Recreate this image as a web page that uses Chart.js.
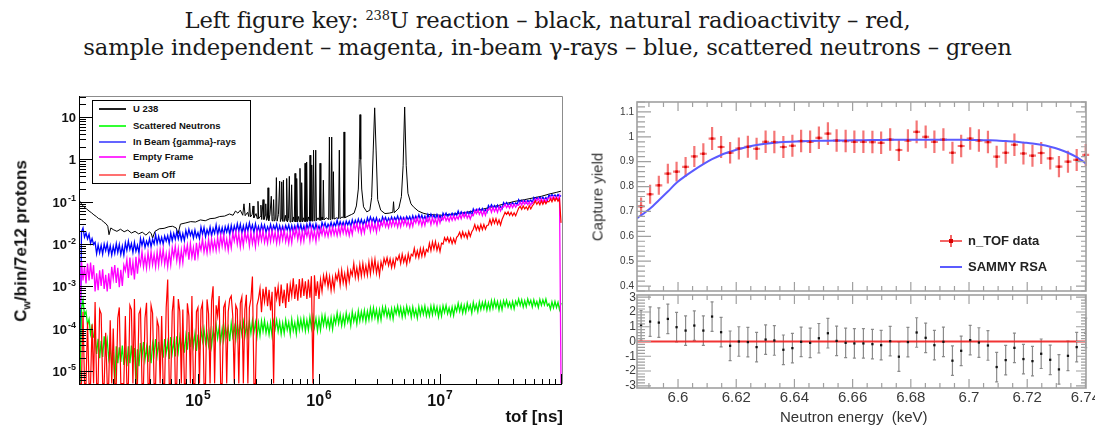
<!DOCTYPE html>
<html>
<head>
<meta charset="utf-8">
<script src="https://cdn.jsdelivr.net/npm/chart.js@4.4.1/dist/chart.umd.min.js"></script>
<style>
  html, body { margin: 0; padding: 0; background: #fff; }
  #page { position: relative; width: 1095px; height: 428px; overflow: hidden; font-family: "Liberation Sans", Arial, sans-serif; }
  #title { position: absolute; left: 0; top: 7px; width: 1095px; text-align: center; font-family: "DejaVu Serif", serif; font-size: 22.7px; line-height: 27px; color: #1a1a1a; letter-spacing: -0.2px; }
  #title sup { font-size: 13px; line-height: 0; vertical-align: 8px; }
  canvas { position: absolute; }
  .rot { position: absolute; transform: translate(-50%, -50%) rotate(-90deg); white-space: nowrap; }
  #legL { position: absolute; left: 92px; top: 100px; width: 157px; height: 82px; border: 1px solid #000; background: #fff; font-weight: bold; font-size: 9.5px; color: #111; }
  #legL .row { position: absolute; left: 0; height: 14px; line-height: 14px; width: 157px; }
  #legL .ln { position: absolute; left: 6px; top: 6px; width: 27px; height: 1.5px; }
  #legL .tx { position: absolute; left: 40px; top: 0; }
  .legR { position: absolute; left: 968px; font-weight: bold; font-size: 13px; line-height: 16px; color: #222; }
</style>
</head>
<body>
<div id="page">
  <div id="title">Left figure key: <sup>238</sup>U reaction – black, natural radioactivity – red,<br>sample independent – magenta, in-beam γ-rays – blue, scattered neutrons – green</div>

  <canvas id="tofChart" width="580" height="343" style="left:0; top:85px;"></canvas>
  <canvas id="yieldChart" width="510" height="210" style="left:585px; top:85px;"></canvas>
  <canvas id="residChart" width="510" height="138" style="left:585px; top:290px;"></canvas>

  <div id="legL">
    <div class="row" style="top:1px"><span class="ln" style="background:#222"></span><span class="tx">U 238</span></div>
    <div class="row" style="top:18px"><span class="ln" style="background:#33ff33"></span><span class="tx">Scattered Neutrons</span></div>
    <div class="row" style="top:34px"><span class="ln" style="background:#6464ff"></span><span class="tx">In Beam {gamma}-rays</span></div>
    <div class="row" style="top:49px"><span class="ln" style="background:#ff33ff"></span><span class="tx">Empty Frame</span></div>
    <div class="row" style="top:67px"><span class="ln" style="background:#ff7070"></span><span class="tx">Beam Off</span></div>
  </div>

  <div class="rot" style="left:22px; top:241px; font-weight:bold; font-size:17px; color:#111;">C<sub style="font-size:11px">w</sub>/bin/7e12 protons</div>
  <div style="position:absolute; left:463px; top:407px; width:100px; text-align:right; font-weight:bold; font-size:17px; color:#111;">tof [ns]</div>

  <!-- right legend -->
  <div style="position:absolute; left:940px; top:240px; width:22px; height:2px; background:rgba(240,50,50,0.75)"></div>
  <div style="position:absolute; left:950px; top:235px; width:2px; height:12px; background:rgba(240,50,50,0.75)"></div>
  <div style="position:absolute; left:949px; top:239px; width:4px; height:4px; background:#d80000"></div>
  <div class="legR" style="top:233px">n_TOF data</div>
  <div style="position:absolute; left:940px; top:266px; width:22px; height:2px; background:#5b5bff"></div>
  <div class="legR" style="top:259px">SAMMY RSA</div>

  <div class="rot" style="left:597px; top:197px; font-size:15px; color:#333;">Capture yield</div>
  <div style="position:absolute; left:780px; top:408px; font-size:15px; color:#333; white-space:pre;">Neutron energy  (keV)</div>
</div>

<script>
// ---------------- LEFT PANEL DATA ----------------
// tof bin centres, log10(tof / ns)
const gridExp = [
  4.025, 4.0375, 4.05, 4.0625, 4.075, 4.0875, 4.1, 4.1125, 4.125, 4.1375, 4.15, 4.1625, 4.175, 4.1875, 4.2, 4.2125, 4.225, 4.2375, 4.25, 4.2625,
  4.275, 4.2875, 4.3, 4.3125, 4.325, 4.3375, 4.35, 4.3625, 4.375, 4.3875, 4.4, 4.4125, 4.425, 4.4375, 4.45, 4.4625, 4.475, 4.4875, 4.5, 4.5125,
  4.525, 4.5375, 4.55, 4.5625, 4.575, 4.5875, 4.6, 4.6125, 4.625, 4.6375, 4.65, 4.6625, 4.675, 4.6875, 4.7, 4.7125, 4.725, 4.7375, 4.75, 4.7625,
  4.775, 4.7875, 4.8, 4.8125, 4.825, 4.8375, 4.85, 4.8625, 4.875, 4.8875, 4.9, 4.9125, 4.925, 4.9375, 4.95, 4.9625, 4.975, 4.9875, 5.0, 5.0125,
  5.025, 5.0375, 5.05, 5.0625, 5.075, 5.0875, 5.1, 5.1125, 5.125, 5.1375, 5.15, 5.1625, 5.175, 5.1875, 5.2, 5.2125, 5.225, 5.2375, 5.25, 5.2625,
  5.275, 5.2875, 5.3, 5.3125, 5.325, 5.3375, 5.35, 5.3625, 5.375, 5.3875, 5.4, 5.4125, 5.425, 5.4375, 5.45, 5.4625, 5.475, 5.4875, 5.5, 5.5125,
  5.525, 5.5375, 5.55, 5.5625, 5.575, 5.5875, 5.6, 5.6125, 5.625, 5.6375, 5.65, 5.6625, 5.675, 5.6875, 5.7, 5.7125, 5.725, 5.7375, 5.75, 5.7625,
  5.775, 5.7875, 5.8, 5.8125, 5.825, 5.8375, 5.85, 5.8625, 5.875, 5.8875, 5.9, 5.9125, 5.925, 5.9375, 5.95, 5.9625, 5.975, 5.9875, 6.0, 6.0125,
  6.025, 6.0375, 6.05, 6.0625, 6.075, 6.0875, 6.1, 6.1125, 6.125, 6.1375, 6.15, 6.1625, 6.175, 6.1875, 6.2, 6.2125, 6.225, 6.2375, 6.25, 6.2625,
  6.275, 6.2875, 6.3, 6.3125, 6.325, 6.3375, 6.35, 6.3625, 6.375, 6.3875, 6.4, 6.4125, 6.425, 6.4375, 6.45, 6.4625, 6.475, 6.4875, 6.5, 6.5125,
  6.525, 6.5375, 6.55, 6.5625, 6.575, 6.5875, 6.6, 6.6125, 6.625, 6.6375, 6.65, 6.6625, 6.675, 6.6875, 6.7, 6.7125, 6.725, 6.7375, 6.75, 6.7625,
  6.775, 6.7875, 6.8, 6.8125, 6.825, 6.8375, 6.85, 6.8625, 6.875, 6.8875, 6.9, 6.9125, 6.925, 6.9375, 6.95, 6.9625, 6.975, 6.9875, 7.0, 7.0125,
  7.025, 7.0375, 7.05, 7.0625, 7.075, 7.0875, 7.1, 7.1125, 7.125, 7.1375, 7.15, 7.1625, 7.175, 7.1875, 7.2, 7.2125, 7.225, 7.2375, 7.25, 7.2625,
  7.275, 7.2875, 7.3, 7.3125, 7.325, 7.3375, 7.35, 7.3625, 7.375, 7.3875, 7.4, 7.4125, 7.425, 7.4375, 7.45, 7.4625, 7.475, 7.4875, 7.5, 7.5125,
  7.525, 7.5375, 7.55, 7.5625, 7.575, 7.5875, 7.6, 7.6125, 7.625, 7.6375, 7.65, 7.6625, 7.675, 7.6875, 7.7, 7.7125, 7.725, 7.7375, 7.75, 7.7625,
  7.775, 7.7875, 7.8, 7.8125, 7.825, 7.8375, 7.85, 7.8625, 7.875, 7.8875, 7.9, 7.9125, 7.925, 7.9375, 7.95, 7.9625, 7.975, 7.9875, 8.0
];

// counts per bin, log10 (empty bins sit on the frame bottom at -5.3)
const greenLog = [
  -5.3, -3.54, -3.33, -3.68, -3.60, -3.91, -3.78, -4.13, -3.95, -4.20, -4.18, -4.60, -4.24, -4.70, -4.29, -4.67, -4.18, -4.53, -4.27, -4.70,
  -4.44, -4.86, -4.55, -5.3, -4.42, -4.82, -4.44, -4.79, -4.40, -4.86, -4.53, -4.89, -4.42, -4.82, -4.40, -4.79, -4.46, -5.3, -4.49, -4.89,
  -4.34, -4.67, -4.32, -4.73, -4.44, -4.79, -4.40, -4.82, -4.36, -4.61, -4.25, -4.63, -4.31, -4.72, -4.35, -4.69, -4.25, -4.57, -4.33, -4.72,
  -4.20, -4.57, -4.30, -4.66, -4.18, -4.54, -4.20, -4.51, -4.16, -4.57, -4.18, -4.50, -4.08, -4.44, -4.06, -4.41, -4.12, -4.53, -4.14, -4.50,
  -4.03, -4.29, -4.01, -4.34, -4.11, -4.39, -4.07, -4.41, -4.04, -4.24, -3.92, -4.22, -3.97, -4.30, -4.00, -4.27, -3.92, -4.18, -3.98, -4.30,
  -3.88, -4.18, -3.96, -4.25, -3.87, -4.15, -3.88, -4.13, -3.85, -4.18, -3.91, -4.16, -3.83, -4.11, -3.81, -4.09, -3.86, -4.19, -3.87, -4.16,
  -3.82, -4.06, -3.81, -4.10, -3.89, -4.14, -3.86, -4.17, -3.83, -4.01, -3.80, -4.07, -3.84, -4.13, -3.87, -4.11, -3.80, -4.03, -3.85, -4.13,
  -3.78, -4.05, -3.86, -4.12, -3.77, -4.03, -3.78, -4.01, -3.76, -4.05, -3.80, -4.03, -3.73, -3.99, -3.72, -3.97, -3.76, -4.05, -3.77, -4.03,
  -3.70, -3.92, -3.69, -3.95, -3.77, -3.99, -3.74, -4.01, -3.72, -3.88, -3.63, -3.88, -3.67, -3.93, -3.70, -3.91, -3.63, -3.84, -3.68, -3.93,
  -3.60, -3.83, -3.66, -3.89, -3.58, -3.82, -3.60, -3.80, -3.57, -3.83, -3.59, -3.79, -3.52, -3.76, -3.51, -3.74, -3.55, -3.81, -3.56, -3.79,
  -3.50, -3.68, -3.49, -3.72, -3.56, -3.75, -3.53, -3.77, -3.51, -3.65, -3.47, -3.68, -3.50, -3.73, -3.52, -3.71, -3.47, -3.65, -3.51, -3.73,
  -3.49, -3.70, -3.55, -3.75, -3.48, -3.68, -3.49, -3.66, -3.47, -3.70, -3.53, -3.70, -3.47, -3.67, -3.46, -3.65, -3.49, -3.72, -3.50, -3.70,
  -3.46, -3.62, -3.45, -3.65, -3.51, -3.68, -3.49, -3.69, -3.47, -3.59, -3.40, -3.59, -3.43, -3.63, -3.45, -3.62, -3.40, -3.56, -3.44, -3.63,
  -3.38, -3.56, -3.43, -3.60, -3.37, -3.55, -3.38, -3.53, -3.36, -3.56, -3.39, -3.55, -3.34, -3.52, -3.33, -3.50, -3.36, -3.56, -3.37, -3.55,
  -3.34, -3.47, -3.33, -3.49, -3.38, -3.52, -3.36, -3.53, -3.35, -3.45, -3.30, -3.45, -3.32, -3.49, -3.34, -3.48, -3.30, -3.43, -3.33, -3.49,
  -3.32, -3.46, -3.36, -3.50, -3.31, -3.45, -3.32, -3.44, -3.30, -3.46, -3.41, -3.54, -3.37, -3.51, -3.36, -3.50, -3.38, -3.55, -3.39
];

const blueLog = [
  -5.3, -1.71, -1.62, -1.84, -1.74, -1.88, -1.77, -1.98, -1.87, -2.01, -1.96, -2.23, -2.02, -2.21, -2.03, -2.24, -2.00, -2.16, -1.99, -2.23,
  -2.04, -2.26, -2.05, -2.22, -1.99, -2.20, -2.01, -2.25, -2.05, -2.26, -1.97, -2.15, -1.93, -2.13, -1.99, -2.20, -1.96, -2.17, -2.03, -2.21,
  -1.87, -2.03, -1.88, -2.08, -1.93, -2.04, -1.87, -2.06, -1.89, -2.00, -1.78, -1.99, -1.82, -1.98, -1.84, -2.00, -1.81, -1.93, -1.80, -1.99,
  -1.74, -1.92, -1.75, -1.89, -1.71, -1.88, -1.72, -1.91, -1.75, -1.92, -1.68, -1.83, -1.65, -1.80, -1.69, -1.86, -1.67, -1.84, -1.73, -1.87,
  -1.60, -1.77, -1.61, -1.83, -1.66, -1.78, -1.60, -1.81, -1.63, -1.75, -1.55, -1.78, -1.60, -1.77, -1.61, -1.79, -1.59, -1.72, -1.57, -1.78,
  -1.56, -1.75, -1.57, -1.71, -1.52, -1.70, -1.53, -1.74, -1.57, -1.75, -1.54, -1.69, -1.50, -1.67, -1.55, -1.73, -1.52, -1.70, -1.58, -1.74,
  -1.54, -1.68, -1.55, -1.73, -1.59, -1.69, -1.54, -1.71, -1.56, -1.66, -1.53, -1.72, -1.57, -1.71, -1.58, -1.73, -1.56, -1.67, -1.55, -1.72,
  -1.56, -1.72, -1.57, -1.69, -1.53, -1.68, -1.54, -1.71, -1.57, -1.72, -1.53, -1.66, -1.50, -1.64, -1.54, -1.69, -1.52, -1.67, -1.57, -1.70,
  -1.49, -1.60, -1.50, -1.64, -1.53, -1.61, -1.49, -1.62, -1.50, -1.58, -1.44, -1.59, -1.47, -1.58, -1.48, -1.60, -1.46, -1.55, -1.46, -1.59,
  -1.43, -1.56, -1.44, -1.54, -1.41, -1.53, -1.42, -1.55, -1.44, -1.56, -1.38, -1.49, -1.36, -1.47, -1.39, -1.51, -1.38, -1.50, -1.42, -1.52,
  -1.36, -1.45, -1.37, -1.49, -1.39, -1.46, -1.36, -1.47, -1.37, -1.44, -1.34, -1.46, -1.36, -1.45, -1.37, -1.47, -1.35, -1.43, -1.35, -1.46,
  -1.33, -1.44, -1.34, -1.42, -1.31, -1.41, -1.32, -1.43, -1.34, -1.44, -1.30, -1.39, -1.29, -1.38, -1.31, -1.41, -1.30, -1.40, -1.33, -1.42,
  -1.27, -1.34, -1.27, -1.36, -1.29, -1.34, -1.27, -1.35, -1.27, -1.33, -1.22, -1.32, -1.24, -1.31, -1.25, -1.32, -1.24, -1.29, -1.23, -1.32,
  -1.17, -1.25, -1.18, -1.24, -1.16, -1.23, -1.16, -1.25, -1.18, -1.25, -1.09, -1.15, -1.07, -1.14, -1.09, -1.17, -1.08, -1.16, -1.11, -1.17,
  -1.02, -1.07, -1.02, -1.09, -1.04, -1.07, -1.02, -1.08, -1.03, -1.06, -0.95, -1.02, -0.97, -1.02, -0.97, -1.03, -0.97, -1.00, -0.96, -1.02,
  -0.90, -0.96, -0.90, -0.94, -0.89, -0.94, -0.89, -0.95, -0.90, -0.96, -0.84, -0.88, -0.83, -0.87, -0.84, -0.89, -0.83, -0.88, -0.85
];

const magentaLog = [
  -3.55, -2.40, -2.86, -2.53, -2.93, -2.46, -2.86, -2.44, -2.83, -2.50, -3.12, -2.69, -3.09, -2.62, -2.99, -2.60, -3.06, -2.73, -3.12, -2.69,
  -3.06, -2.54, -2.82, -2.50, -2.92, -2.56, -3.02, -2.61, -2.99, -2.50, -2.63, -2.37, -2.80, -2.32, -2.74, -2.43, -2.84, -2.30, -2.70, -2.32,
  -2.49, -2.18, -2.54, -2.29, -2.57, -2.20, -2.52, -2.18, -2.49, -2.24, -2.54, -2.19, -2.51, -2.14, -2.43, -2.12, -2.48, -2.23, -2.54, -2.19,
  -2.49, -2.09, -2.31, -2.05, -2.39, -2.11, -2.47, -2.14, -2.44, -2.05, -2.24, -2.02, -2.37, -1.99, -2.31, -2.08, -2.39, -1.97, -2.29, -1.99,
  -2.14, -1.88, -2.19, -1.97, -2.21, -1.89, -2.17, -1.88, -2.14, -1.92, -2.15, -1.85, -2.12, -1.80, -2.05, -1.79, -2.10, -1.88, -2.15, -1.85,
  -2.09, -1.74, -1.93, -1.71, -2.00, -1.75, -2.07, -1.78, -2.04, -1.71, -1.92, -1.74, -2.04, -1.71, -1.99, -1.78, -2.06, -1.69, -1.97, -1.71,
  -1.92, -1.68, -1.96, -1.77, -1.98, -1.70, -1.94, -1.68, -1.92, -1.72, -1.98, -1.72, -1.96, -1.68, -1.90, -1.66, -1.94, -1.75, -1.98, -1.72,
  -1.97, -1.66, -1.83, -1.63, -1.89, -1.67, -1.95, -1.70, -1.93, -1.63, -1.82, -1.66, -1.92, -1.63, -1.88, -1.70, -1.94, -1.62, -1.86, -1.63,
  -1.78, -1.60, -1.81, -1.66, -1.82, -1.61, -1.79, -1.60, -1.78, -1.63, -1.80, -1.60, -1.78, -1.57, -1.74, -1.56, -1.77, -1.62, -1.80, -1.60,
  -1.77, -1.53, -1.66, -1.51, -1.70, -1.54, -1.75, -1.56, -1.73, -1.51, -1.62, -1.50, -1.70, -1.48, -1.67, -1.53, -1.72, -1.47, -1.65, -1.48,
  -1.57, -1.43, -1.59, -1.48, -1.61, -1.44, -1.58, -1.43, -1.57, -1.45, -1.60, -1.44, -1.59, -1.42, -1.55, -1.41, -1.57, -1.46, -1.60, -1.44,
  -1.58, -1.40, -1.50, -1.38, -1.53, -1.40, -1.57, -1.42, -1.56, -1.38, -1.48, -1.38, -1.54, -1.37, -1.51, -1.41, -1.55, -1.36, -1.50, -1.37,
  -1.43, -1.33, -1.45, -1.37, -1.46, -1.34, -1.44, -1.33, -1.43, -1.35, -1.41, -1.30, -1.40, -1.28, -1.37, -1.27, -1.39, -1.31, -1.41, -1.30,
  -1.33, -1.21, -1.28, -1.19, -1.30, -1.21, -1.33, -1.22, -1.32, -1.19, -1.20, -1.14, -1.25, -1.13, -1.23, -1.15, -1.25, -1.12, -1.22, -1.13,
  -1.13, -1.06, -1.14, -1.08, -1.15, -1.06, -1.14, -1.06, -1.13, -1.07, -1.08, -1.01, -1.08, -0.99, -1.06, -0.99, -1.07, -1.01, -1.08, -1.01,
  -1.02, -0.93, -0.98, -0.92, -1.00, -0.93, -1.01, -0.94, -1.01, -0.92, -0.92, -0.88, -0.95, -0.87, -0.94, -0.89, -0.96, -0.86, -5.3
];

const redLog = [
  -5.3, -5.3, -3.60, -5.3, -5.3, -3.85, -5.3, -5.3, -3.90, -5.3, -3.37, -5.3, -5.3, -3.55, -3.65, -5.3, -5.3, -4.10, -5.3, -5.3,
  -3.80, -5.3, -4.00, -5.3, -5.3, -3.75, -3.50, -5.3, -5.3, -5.3, -3.70, -5.3, -5.3, -3.45, -3.55, -5.3, -3.30, -5.3, -5.3, -3.65,
  -3.55, -5.3, -5.3, -3.75, -3.39, -5.3, -5.3, -3.45, -3.63, -5.3, -5.3, -3.80, -3.95, -5.3, -3.70, -5.3, -5.3, -3.50, -2.84, -5.3,
  -5.3, -3.60, -3.23, -5.3, -5.3, -3.30, -3.60, -5.3, -3.55, -5.3, -5.3, -3.40, -3.70, -5.3, -3.23, -5.3, -5.3, -3.60, -3.50, -5.3,
  -3.55, -3.40, -5.3, -5.3, -3.31, -3.65, -5.3, -3.35, -3.00, -5.3, -3.45, -3.70, -3.23, -5.3, -5.3, -3.50, -3.39, -5.3, -3.60, -3.30,
  -3.23, -3.70, -5.3, -3.45, -3.55, -5.3, -3.40, -3.25, -5.3, -3.55, -3.20, -5.3, -3.50, -3.30, -2.77, -5.3, -5.3, -3.45, -3.30, -3.05,
  -3.61, -3.06, -3.36, -3.01, -3.47, -3.08, -3.57, -3.13, -5.3, -3.01, -3.29, -3.01, -3.47, -2.96, -3.40, -3.08, -3.51, -2.93, -3.37, -2.96,
  -3.23, -2.81, -3.30, -2.95, -3.34, -2.83, -3.27, -2.81, -3.23, -2.88, -3.30, -2.84, -3.27, -2.76, -5.3, -2.74, -3.23, -2.88, -3.30, -2.84,
  -3.12, -2.75, -2.95, -2.72, -3.02, -2.77, -3.10, -2.80, -3.07, -2.72, -2.85, -2.65, -2.97, -2.62, -2.92, -2.70, -2.99, -2.61, -2.89, -2.62,
  -2.74, -2.46, -2.79, -2.56, -2.81, -2.48, -2.76, -2.46, -2.74, -2.51, -2.74, -2.42, -2.71, -2.38, -2.64, -2.36, -2.69, -2.46, -2.74, -2.42,
  -2.58, -2.34, -2.47, -2.32, -2.51, -2.35, -2.56, -2.37, -2.54, -2.32, -2.38, -2.26, -2.46, -2.24, -2.43, -2.29, -2.48, -2.23, -2.41, -2.24,
  -2.28, -2.10, -2.31, -2.16, -2.32, -2.11, -2.29, -2.10, -2.28, -2.13, -2.18, -1.98, -2.16, -1.95, -2.12, -1.94, -2.15, -2.00, -2.18, -1.98,
  -2.00, -1.85, -1.93, -1.84, -1.96, -1.86, -1.99, -1.87, -1.98, -1.84, -1.80, -1.72, -1.85, -1.71, -1.83, -1.74, -1.86, -1.70, -1.82, -1.71,
  -1.65, -1.54, -1.67, -1.57, -1.68, -1.54, -1.66, -1.54, -1.65, -1.56, -1.55, -1.42, -1.54, -1.40, -1.51, -1.40, -1.53, -1.43, -1.55, -1.42,
  -1.34, -1.25, -1.30, -1.24, -1.32, -1.25, -1.33, -1.26, -1.33, -1.24, -1.15, -1.11, -1.18, -1.10, -1.17, -1.12, -1.19, -1.09, -1.17, -1.10,
  -1.05, -0.98, -1.06, -1.00, -1.07, -0.98, -1.06, -0.98, -1.05, -0.99, -1.00, -0.93, -1.00, -0.91, -0.98, -0.91, -0.99, -0.93, -1.50
];

// U 238 spectrum: own sampling, dense around the resonances
const blackExp = [
  4.022, 4.03, 4.045, 4.06, 4.08, 4.10, 4.12, 4.14, 4.16, 4.18, 4.20, 4.22, 4.24, 4.255, 4.265, 4.28, 4.30, 4.33, 4.36, 4.39,
  4.42, 4.45, 4.48, 4.51, 4.54, 4.57, 4.60, 4.615, 4.625, 4.645, 4.68, 4.72, 4.76, 4.79, 4.82, 4.835, 4.855, 4.90, 4.94, 4.98,
  5.02, 5.06, 5.10, 5.14, 5.18, 5.22, 5.26, 5.29, 5.31, 5.33, 5.35, 5.37, 5.38, 5.39, 5.41, 5.42, 5.427, 5.434, 5.448, 5.455,
  5.462, 5.48, 5.49, 5.496, 5.502, 5.514, 5.52, 5.527, 5.538, 5.545, 5.556, 5.56, 5.566, 5.574, 5.579, 5.585, 5.595, 5.606, 5.612, 5.62,
  5.625, 5.631, 5.642, 5.648, 5.654, 5.665, 5.675, 5.681, 5.687, 5.692, 5.698, 5.702, 5.706, 5.712, 5.722, 5.728, 5.733, 5.739, 5.748, 5.755,
  5.761, 5.768, 5.774, 5.78, 5.79, 5.796, 5.802, 5.808, 5.812, 5.816, 5.822, 5.832, 5.838, 5.843, 5.849, 5.853, 5.857, 5.863, 5.873, 5.879,
  5.885, 5.891, 5.894, 5.898, 5.904, 5.915, 5.921, 5.926, 5.932, 5.936, 5.94, 5.946, 5.95, 5.955, 5.961, 5.967, 5.973, 5.979, 5.992, 6.003,
  6.009, 6.015, 6.025, 6.031, 6.036, 6.042, 6.06, 6.08, 6.086, 6.092, 6.099, 6.105, 6.111, 6.115, 6.119, 6.125, 6.145, 6.162, 6.168, 6.174,
  6.19, 6.201, 6.207, 6.213, 6.24, 6.27, 6.29, 6.309, 6.325, 6.333, 6.339, 6.345, 6.353, 6.368, 6.395, 6.42, 6.435, 6.448, 6.46, 6.472,
  6.485, 6.51, 6.545, 6.58, 6.61, 6.616, 6.622, 6.66, 6.681, 6.695, 6.708, 6.721, 6.735, 6.76, 6.78, 6.82, 6.86, 6.90, 6.95, 7.01,
  7.08, 7.15, 7.22, 7.29, 7.36, 7.42, 7.48, 7.55, 7.62, 7.70, 7.77, 7.84, 7.90, 7.96, 8.0
];
const blackLog = [
  -0.98, -1.02, -1.08, -1.13, -1.17, -1.22, -1.26, -1.31, -1.35, -1.40, -1.42, -1.48, -1.52, -1.58, -1.78, -1.62, -1.66, -1.70, -1.65, -1.71,
  -1.67, -1.74, -1.70, -1.76, -1.72, -1.79, -1.71, -1.76, -1.86, -1.70, -1.64, -1.63, -1.59, -1.58, -1.62, -1.76, -1.53, -1.50, -1.47, -1.48,
  -1.43, -1.45, -1.40, -1.39, -1.35, -1.34, -1.29, -1.32, -1.22, -1.27, -1.20, -1.32, -1.05, -1.33, -1.25, -1.35, -1.03, -1.36, -1.30, -1.10,
  -1.38, -1.28, -1.40, -0.99, -1.40, -1.35, -1.08, -1.42, -0.95, -1.42, -1.32, -1.05, -1.44, -1.40, -0.67, -1.45, -1.30, -0.87, -1.45, -1.35,
  -0.95, -1.46, -1.42, -0.43, -1.46, -1.30, -0.51, -1.47, -1.40, -0.53, -1.46, -1.40, -0.49, -1.47, -1.32, -1.45, -0.45, -1.48, -1.40, -0.40,
  -1.48, -1.38, -0.60, -1.48, -1.36, -1.47, -0.33, -1.48, -1.42, -0.45, -1.48, -1.35, -1.47, -0.21, -1.48, -1.43, -0.55, -1.48, -1.38, -1.47,
  -0.09, -1.47, -1.44, -0.06, -1.47, -1.36, -1.46, 0.10, -1.46, -1.42, -0.13, -1.46, -1.42, 0.22, -1.45, -1.40, 0.22, -1.45, -1.38, -1.44,
  -0.09, -1.44, -1.36, -1.43, -0.49, -1.43, -1.38, -1.42, 0.53, -1.42, -1.40, 0.53, -1.41, -1.38, -0.29, -1.41, -1.38, -1.40, 0.22, -1.40,
  -1.36, -1.38, 0.65, -1.38, -1.34, -1.30, -1.27, -1.10, -0.70, 0.00, 1.06, 0.00, -0.70, -1.12, -1.24, -1.20, -0.90, 0.20, 1.22, 0.20,
  -0.95, -1.20, -1.28, -1.27, -1.25, -1.00, -1.26, -1.15, -0.88, -0.15, 1.24, -0.15, -0.80, -1.05, -1.12, -1.22, -1.27, -1.30, -1.31, -1.32,
  -1.30, -1.28, -1.25, -1.21, -1.17, -1.13, -1.09, -1.04, -0.99, -0.95, -0.91, -0.87, -0.82, -0.78, -0.75
];

const tofTickExp = [5, 6, 7];
const countTickExp = [-5, -4, -3, -2, -1, 0, 1];

// ---------------- RIGHT PANEL DATA ----------------
const energy = [
  6.5873, 6.5904, 6.5934, 6.5965, 6.5995, 6.6026, 6.6056, 6.6087, 6.6117, 6.6148,
  6.6179, 6.6209, 6.6240, 6.6270, 6.6301, 6.6331, 6.6362, 6.6393, 6.6423, 6.6454,
  6.6484, 6.6515, 6.6545, 6.6576, 6.6606, 6.6637, 6.6668, 6.6698, 6.6729, 6.6759,
  6.6790, 6.6820, 6.6851, 6.6881, 6.6912, 6.6943, 6.6973, 6.7004, 6.7034, 6.7065,
  6.7095, 6.7126, 6.7156, 6.7187, 6.7218, 6.7248, 6.7279, 6.7309, 6.7340, 6.7370, 6.7401
];
const captureYield = [
  0.720, 0.769, 0.805, 0.852, 0.860, 0.879, 0.921, 0.932, 0.993, 0.959,
  0.936, 0.953, 0.960, 0.952, 0.980, 0.979, 0.959, 0.964, 0.983, 0.980,
  0.996, 1.013, 0.985, 0.983, 0.980, 0.980, 0.979, 0.976, 0.989, 0.947,
  0.985, 1.020, 1.000, 0.980, 0.989, 0.936, 0.963, 0.993, 0.985, 0.979,
  0.920, 0.936, 0.968, 0.933, 0.924, 0.935, 0.913, 0.880, 0.900, 0.907, 0.927
];
const yieldErr = [
  0.036, 0.038, 0.038, 0.040, 0.040, 0.040, 0.042, 0.042, 0.046, 0.044,
  0.043, 0.044, 0.044, 0.044, 0.045, 0.045, 0.044, 0.044, 0.045, 0.045,
  0.045, 0.046, 0.045, 0.045, 0.045, 0.045, 0.045, 0.045, 0.045, 0.044,
  0.045, 0.046, 0.046, 0.045, 0.045, 0.044, 0.045, 0.045, 0.045, 0.045,
  0.044, 0.044, 0.045, 0.044, 0.044, 0.044, 0.044, 0.043, 0.044, 0.044, 0.044
];
const fitEnergy = [
  6.5859, 6.5904, 6.5934, 6.5965, 6.5995, 6.6026, 6.6056, 6.6087, 6.6117, 6.6148,
  6.6179, 6.6209, 6.6240, 6.6270, 6.6301, 6.6331, 6.6362, 6.6423, 6.6484, 6.6545,
  6.6606, 6.6668, 6.6729, 6.6790, 6.6851, 6.6912, 6.6973, 6.7034, 6.7065, 6.7095,
  6.7126, 6.7156, 6.7187, 6.7218, 6.7248, 6.7279, 6.7309, 6.7340, 6.7370, 6.7402
];
const fitYield = [
  0.672, 0.712, 0.745, 0.780, 0.815, 0.843, 0.867, 0.890, 0.910, 0.927,
  0.940, 0.951, 0.960, 0.967, 0.972, 0.976, 0.979, 0.982, 0.984, 0.985,
  0.986, 0.987, 0.988, 0.988, 0.988, 0.988, 0.988, 0.987, 0.986, 0.985,
  0.983, 0.981, 0.977, 0.973, 0.968, 0.960, 0.950, 0.936, 0.918, 0.893
];
const residual = [
  1.10, 1.35, 1.28, 1.53, 0.97, 0.74, 1.08, 0.74, 1.69, 0.63,
  -0.29, 0.00, -0.04, -0.38, 0.13, 0.07, -0.56, -0.45, -0.02, -0.09,
  0.22, 0.56, 0.04, -0.09, -0.13, -0.13, -0.18, -0.25, 0.02, -1.03,
  -0.04, 0.61, 0.25, -0.25, -0.02, -1.30, -0.63, 0.09, -0.07, -0.27,
  -1.73, -1.26, -0.43, -1.19, -1.33, -0.83, -1.24, -1.89, -0.97, -0.38, 0.58
];
const residSigma = 1;

const energyTicks = [6.6, 6.62, 6.64, 6.66, 6.68, 6.7, 6.72, 6.74];
const yieldTicks = [0.4, 0.5, 0.6, 0.7, 0.8, 0.9, 1, 1.1];
const residTicks = [-3, -2, -1, 0, 1, 2, 3];

const E_MIN = 6.5859, E_MAX = 6.7402;
const SANS = '"Liberation Sans", Arial, sans-serif';

// ---------------- HELPERS ----------------
function logPoints(expArr, logArr) {
  return expArr.map((e, i) => ({ x: Math.pow(10, e), y: Math.pow(10, logArr[i]) }));
}

// "10" with a raised exponent, like ROOT prints it
function powLabel(ctx, exp, px, py, size, align) {
  const base = exp === 0 ? '1' : '10';
  const sup = (exp === 0 || exp === 1) ? '' : String(exp);
  const supSize = Math.round(size * 0.72);
  ctx.font = `bold ${size}px ${SANS}`;
  const wb = ctx.measureText(base).width;
  ctx.font = `bold ${supSize}px ${SANS}`;
  const ws = sup ? ctx.measureText(sup).width + 1 : 0;
  const left = align === 'right' ? px - wb - ws : px - (wb + ws) / 2;
  ctx.textAlign = 'left';
  ctx.textBaseline = 'alphabetic';
  ctx.font = `bold ${size}px ${SANS}`;
  ctx.fillText(base, left, py);
  if (sup) {
    ctx.font = `bold ${supSize}px ${SANS}`;
    ctx.fillText(sup, left + wb + 1, py - size * 0.42);
  }
}

// ---------------- LEFT CHART ----------------
const tofAxes = {
  id: 'tofAxes',
  afterDraw(chart) {
    const { ctx, chartArea: a, scales: { x, y } } = chart;
    ctx.save();
    ctx.lineWidth = 1;
    ctx.strokeStyle = '#8c8c8c';
    ctx.beginPath();
    ctx.moveTo(a.left, a.top + 0.5); ctx.lineTo(a.right + 0.5, a.top + 0.5); ctx.lineTo(a.right + 0.5, a.bottom);
    ctx.stroke();

    ctx.strokeStyle = '#000';
    ctx.beginPath();
    ctx.moveTo(a.left + 0.5, a.top); ctx.lineTo(a.left + 0.5, a.bottom + 0.5); ctx.lineTo(a.right, a.bottom + 0.5);
    for (let e = -6; e <= 2; e++) {
      for (let m = 1; m < 10; m++) {
        const v = m * Math.pow(10, e);
        if (v < y.min || v > y.max) continue;
        const py = Math.round(y.getPixelForValue(v)) + 0.5;
        ctx.moveTo(a.left, py); ctx.lineTo(a.left + (m === 1 ? 14 : 7), py);
      }
    }
    for (let e = 4; e <= 8; e++) {
      for (let m = 1; m < 10; m++) {
        const v = m * Math.pow(10, e);
        if (v < x.min || v > x.max) continue;
        const px = Math.round(x.getPixelForValue(v)) + 0.5;
        ctx.moveTo(px, a.bottom); ctx.lineTo(px, a.bottom - (m === 1 ? 10 : 5));
      }
    }
    ctx.stroke();

    ctx.fillStyle = '#111';
    countTickExp.forEach(e => {
      const py = y.getPixelForValue(Math.pow(10, e));
      powLabel(ctx, e, a.left - 3, py + 5, 13, 'right');
    });
    tofTickExp.forEach(e => {
      const px = x.getPixelForValue(Math.pow(10, e));
      powLabel(ctx, e, px, a.bottom + 22, 16, 'center');
    });
    ctx.restore();
  }
};

const tofSeries = [
  { label: 'U 238', exp: blackExp, val: blackLog, color: '#000000', order: 5, width: 1 },
  { label: 'Scattered Neutrons', exp: gridExp, val: greenLog, color: '#00f000', order: 3, width: 1.3 },
  { label: 'In Beam {gamma}-rays', exp: gridExp, val: blueLog, color: '#0000ff', order: 4, width: 1.3 },
  { label: 'Empty Frame', exp: gridExp, val: magentaLog, color: '#ff00ff', order: 2, width: 1.3 },
  { label: 'Beam Off', exp: gridExp, val: redLog, color: '#ff0000', order: 1, width: 1.2 }
];

new Chart(document.getElementById('tofChart'), {
  type: 'line',
  data: {
    datasets: tofSeries.map(s => ({
      label: s.label,
      data: logPoints(s.exp, s.val),
      borderColor: s.color,
      borderWidth: s.width,
      pointRadius: 0,
      tension: 0,
      order: s.order
    }))
  },
  options: {
    responsive: false,
    animation: false,
    events: [],
    layout: { padding: { left: 79, top: 11, right: 18, bottom: 44 } },
    plugins: { legend: { display: false }, tooltip: { enabled: false } },
    scales: {
      x: { type: 'logarithmic', display: false, bounds: 'data', min: Math.pow(10, 4.017), max: Math.pow(10, 8.008) },
      y: { type: 'logarithmic', display: false, bounds: 'data', min: Math.pow(10, -5.31), max: Math.pow(10, 1.5) }
    }
  },
  plugins: [tofAxes]
});

// ---------------- RIGHT CHARTS ----------------
const errorBars = {
  id: 'errorBars',
  beforeDatasetsDraw(chart) {
    const { ctx, scales: { x, y } } = chart;
    ctx.save();
    chart.data.datasets.forEach(ds => {
      if (!ds.errY) return;
      ctx.strokeStyle = ds.errColor;
      ctx.lineWidth = ds.errWidth;
      ctx.beginPath();
      ds.data.forEach((p, i) => {
        const px = x.getPixelForValue(p.x);
        const y1 = y.getPixelForValue(p.y - ds.errY[i]);
        const y2 = y.getPixelForValue(p.y + ds.errY[i]);
        ctx.moveTo(px, y1); ctx.lineTo(px, y2);
        if (ds.capW) {
          ctx.moveTo(px - ds.capW, y1); ctx.lineTo(px + ds.capW, y1);
          ctx.moveTo(px - ds.capW, y2); ctx.lineTo(px + ds.capW, y2);
        }
        if (ds.errX) {
          const py = y.getPixelForValue(p.y);
          ctx.moveTo(x.getPixelForValue(p.x - ds.errX), py); ctx.lineTo(x.getPixelForValue(p.x + ds.errX), py);
        }
      });
      ctx.stroke();
    });
    ctx.restore();
  }
};

function panelAxes(cfg) {
  return {
    id: 'panelAxes',
    afterDraw(chart) {
      const { ctx, chartArea: a, scales: { x, y } } = chart;
      ctx.save();
      ctx.strokeStyle = '#a0a0a0';
      ctx.lineWidth = 1.6;
      ctx.strokeRect(a.left, a.top, a.right - a.left, a.bottom - a.top);

      ctx.lineWidth = 1.2;
      ctx.beginPath();
      for (let k = Math.ceil(x.min / 0.005 - 1e-6); k * 0.005 <= x.max + 1e-6; k++) {
        const px = x.getPixelForValue(k * 0.005);
        const len = k % 4 === 0 ? 9 : 5;
        ctx.moveTo(px, a.top); ctx.lineTo(px, a.top + len);
        ctx.moveTo(px, a.bottom); ctx.lineTo(px, a.bottom - len);
      }
      for (let k = Math.ceil(y.min / cfg.yStep - 1e-6); k * cfg.yStep <= y.max + 1e-6; k++) {
        const py = y.getPixelForValue(k * cfg.yStep);
        const major = k % cfg.majorEvery === 0;
        ctx.moveTo(a.left, py); ctx.lineTo(a.left + (major ? 14 : 8), py);
        ctx.moveTo(a.right, py); ctx.lineTo(a.right - (major ? 10 : 5), py);
      }
      ctx.stroke();

      ctx.fillStyle = '#3a3a3a';
      ctx.textAlign = 'right';
      ctx.textBaseline = 'middle';
      ctx.font = `${cfg.yFont}px ${SANS}`;
      cfg.yTicks.forEach(v => ctx.fillText(String(v), a.left - cfg.yGap, y.getPixelForValue(v)));
      if (cfg.xLabels) {
        ctx.textAlign = 'center';
        ctx.font = `15px ${SANS}`;
        energyTicks.forEach(v => ctx.fillText(String(v), x.getPixelForValue(v), a.bottom + 10));
      }
      ctx.restore();
    }
  };
}

const commonOpts = (pad, yMin, yMax) => ({
  responsive: false,
  animation: false,
  events: [],
  layout: { padding: pad },
  plugins: { legend: { display: false }, tooltip: { enabled: false } },
  scales: {
    x: { type: 'linear', display: false, bounds: 'data', min: E_MIN, max: E_MAX },
    y: { type: 'linear', display: false, bounds: 'data', min: yMin, max: yMax }
  }
});

new Chart(document.getElementById('yieldChart'), {
  type: 'scatter',
  data: {
    datasets: [
      {
        label: 'n_TOF data',
        data: energy.map((e, i) => ({ x: e, y: captureYield[i] })),
        pointStyle: 'rect',
        pointRadius: 1.8,
        backgroundColor: '#dd0000',
        borderWidth: 0,
        errY: yieldErr,
        errX: 0.0012,
        errColor: 'rgba(240, 60, 60, 0.7)',
        errWidth: 2.2,
        order: 0
      },
      {
        label: 'SAMMY RSA',
        data: fitEnergy.map((e, i) => ({ x: e, y: fitYield[i] })),
        showLine: true,
        borderColor: '#5b5bff',
        borderWidth: 2,
        pointRadius: 0,
        tension: 0.3,
        order: 1
      }
    ]
  },
  options: commonOpts({ left: 52, top: 17, right: 9, bottom: 2 }, 0.38, 1.14),
  plugins: [errorBars, panelAxes({ yStep: 0.02, majorEvery: 5, yTicks: yieldTicks, yFont: 10, yGap: 3, xLabels: false })]
});

new Chart(document.getElementById('residChart'), {
  type: 'scatter',
  data: {
    datasets: [
      {
        label: 'residual',
        data: energy.map((e, i) => ({ x: e, y: residual[i] })),
        pointStyle: 'rect',
        pointRadius: 1.6,
        backgroundColor: '#111',
        borderWidth: 0,
        errY: energy.map(() => residSigma),
        capW: 1.5,
        errColor: '#8a8a8a',
        errWidth: 1.2,
        order: 0
      },
      {
        label: 'zero',
        data: [{ x: E_MIN, y: 0 }, { x: E_MAX, y: 0 }],
        showLine: true,
        borderColor: 'rgba(240, 30, 30, 0.9)',
        borderWidth: 2,
        pointRadius: 0,
        order: 1
      }
    ]
  },
  options: commonOpts({ left: 52, top: 5, right: 9, bottom: 40 }, -3.15, 3.15),
  plugins: [errorBars, panelAxes({ yStep: 0.2, majorEvery: 5, yTicks: residTicks, yFont: 12, yGap: 1, xLabels: true })]
});
</script>
</body>
</html>
